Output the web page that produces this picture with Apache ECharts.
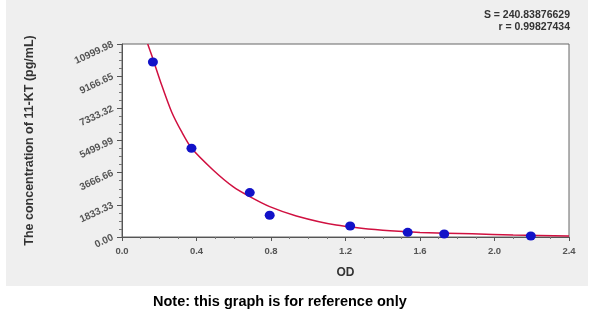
<!DOCTYPE html>
<html>
<head>
<meta charset="utf-8">
<script src="https://cdn.jsdelivr.net/npm/echarts@6/dist/echarts.min.js"></script>
<style>
html,body{margin:0;padding:0;background:#fff;}
#c{width:600px;height:317px;}
</style>
</head>
<body>
<div id="c"></div>
<script>
// Measured standards (OD, concentration pg/mL)
var pointOD   = [0.166, 0.373, 0.686, 0.793, 1.225, 1.534, 1.73, 2.195];
var pointConc = [9974, 5060, 2530, 1240, 627, 266, 170, 57];
// Fitted curve
var curveOD   = [0.138, 0.159, 0.213, 0.266, 0.32, 0.373, 0.489, 0.596, 0.686, 0.793, 0.936, 1.15, 1.4, 1.6, 1.88, 2.1, 2.4];
var curveConc = [11000, 10370, 8660, 7140, 6000, 5070, 3820, 2870, 2300, 1730, 1200, 680, 380, 260, 180, 120, 60];
// Axis ticks
var xTicks = ['0.0','0.4','0.8','1.2','1.6','2.0','2.4'];
var yTicks = ['0.00','1833.33','3666.66','5499.99','7333.32','9166.65','10999.98'];
var statS = 'S = 240.83876629';
var statR = 'r = 0.99827434';

var FONT = '"Liberation Sans", Arial, sans-serif';
var chart = echarts.init(document.getElementById('c'), null, {renderer:'canvas'});

function zip(a,b){ return a.map(function(v,i){ return [v,b[i]]; }); }

chart.setOption({
  animation:false,
  graphic:[
    {type:'rect', z:-10, shape:{x:6,y:0,width:582,height:286}, style:{fill:'#efefef'}},
    {type:'text', right:30, top:10, style:{text:statS, font:'bold 10.5px ' + FONT, fill:'#333'}},
    {type:'text', right:30, top:22, style:{text:statR, font:'bold 10.5px ' + FONT, fill:'#333'}},
    {type:'text', left:153, top:294, style:{text:'Note: this graph is for reference only', font:'bold 14.5px ' + FONT, fill:'#000'}}
  ],
  grid:{left:122, right:31, top:44, bottom:80, show:true, backgroundColor:'#fff', borderColor:'#666', borderWidth:1},
  xAxis:{
    type:'value', min:0, max:2.4, interval:0.4,
    name:'OD', nameLocation:'middle', nameGap:30,
    nameTextStyle:{fontFamily:FONT, fontWeight:'bold', fontSize:12, color:'#333'},
    axisLine:{show:true, onZero:false, lineStyle:{color:'#555'}},
    axisTick:{show:true, length:4, lineStyle:{color:'#555'}},
    minorTick:{show:true, splitNumber:4, length:2, lineStyle:{color:'#777'}},
    splitLine:{show:false},
    axisLabel:{fontFamily:FONT, fontWeight:'bold', fontSize:9.5, color:'#555', margin:9,
      formatter:function(v){ var i=Math.round(v/0.4); return xTicks[i]!==undefined?xTicks[i]:''; }}
  },
  yAxis:{
    type:'value', min:0, max:10999.98, interval:1833.33,
    name:'The concentration of 11-KT (pg/mL)', nameLocation:'middle', nameGap:86,
    nameTextStyle:{fontFamily:FONT, fontWeight:'bold', fontSize:12.5, color:'#333'},
    axisLine:{show:true, onZero:false, lineStyle:{color:'#555'}},
    axisTick:{show:true, length:5, lineStyle:{color:'#555'}},
    minorTick:{show:true, splitNumber:4, length:3, lineStyle:{color:'#777'}},
    splitLine:{show:false},
    axisLabel:{fontFamily:FONT, fontWeight:'bold', fontSize:10, color:'#555', rotate:25, margin:9,
      formatter:function(v){ var i=Math.round(v/1833.33); return yTicks[i]!==undefined?yTicks[i]:''; }}
  },
  series:[
    {type:'line', data:zip(curveOD, curveConc), smooth:0.25, showSymbol:false, symbol:'none',
      lineStyle:{color:'#d01040', width:1.5}, z:2, clip:true},
    {type:'scatter', data:zip(pointOD, pointConc), symbol:'circle', symbolSize:[10,9],
      itemStyle:{color:'#1212c8', opacity:1}, z:3}
  ]
});
</script>
</body>
</html>
